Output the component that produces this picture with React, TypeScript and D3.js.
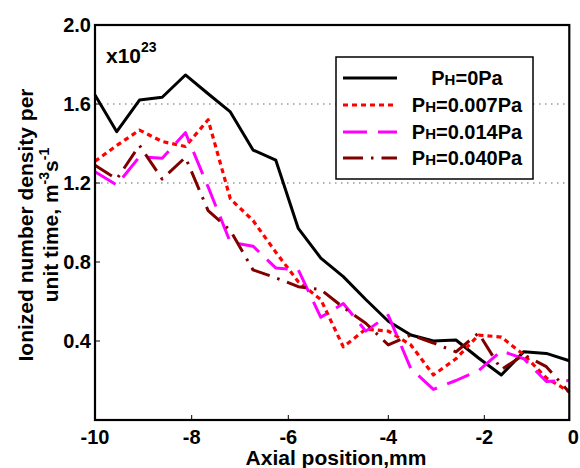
import React from "react";
import * as d3 from "d3";

const positions = [-10, -9.55, -9.08, -8.61, -8.13, -7.66, -7.2, -6.73, -6.26, -5.8, -5.35, -4.9, -4.45, -4.0, -3.53, -3.06, -2.59, -2.12, -1.6, -1.07, -0.54, 0];
const seriesP0 = [1.646, 1.46, 1.62, 1.634, 1.747, 1.652, 1.56, 1.367, 1.316, 0.97, 0.82, 0.726, 0.61, 0.5, 0.43, 0.4, 0.405, 0.314, 0.228, 0.346, 0.337, 0.3];
const seriesP007 = [1.31, 1.39, 1.468, 1.41, 1.385, 1.52, 1.12, 1.01, 0.85, 0.7, 0.61, 0.37, 0.46, 0.45, 0.38, 0.228, 0.31, 0.43, 0.42, 0.33, 0.213, 0.143];
const seriesP014 = [1.257, 1.19, 1.333, 1.325, 1.455, 1.18, 0.9, 0.88, 0.77, 0.76, 0.52, 0.59, 0.45, 0.53, 0.26, 0.155, 0.2, 0.25, 0.35, 0.31, 0.195, 0.2];
const seriesP040 = [1.29, 1.22, 1.39, 1.22, 1.33, 1.06, 0.96, 0.76, 0.72, 0.675, 0.66, 0.57, 0.49, 0.38, 0.43, 0.39, 0.345, 0.44, 0.255, 0.33, 0.27, 0.14];
const legendLabels = ["0Pa", "0.007Pa", "0.014Pa", "0.040Pa"];
const xTicks = [-10, -8, -6, -4, -2, 0];
const yTicks = [0.4, 0.8, 1.2, 1.6, 2.0];
const gridTicks = [1.2, 1.6];

const FONT = "'Liberation Sans', Arial, sans-serif";

export default function App() {
  const W = 580, H = 468;
  const x = d3.scaleLinear().domain([-10, -8, -6, -4, -2, 0]).range([95, 191.7, 288.3, 388.3, 484.3, 569.3]);
  const y = d3.scaleLinear().domain([0, 2]).range([420, 25]);
  const line = d3.line<number>().x((_, i) => x(positions[i])).y((d) => y(d));

  const series = [
    { data: seriesP0, color: "#000000", dash: "none", width: 3 },
    { data: seriesP007, color: "#ff0000", dash: "5 4", width: 3.2 },
    { data: seriesP014, color: "#ff00ff", dash: "24 11", width: 3 },
    { data: seriesP040, color: "#800000", dash: "20 8 2.5 8", width: 3 },
  ];

  const left = x(-10), right = x(0), top = y(2), bottom = y(0);
  const legX = 336, legY = 57, legW = 197, legH = 122;
  const rowY = [78, 105, 132, 158];

  return (
    <svg width={W} height={H} style={{ position: "absolute", left: 0, top: 0, background: "#fff" }} fontFamily={FONT}>
      <rect x={0} y={0} width={W} height={H} fill="#fff" />
      {gridTicks.map((t) => (
        <line key={t} x1={left} x2={right} y1={y(t)} y2={y(t)} stroke="#666" strokeWidth={1.2} strokeDasharray="1.5 4.5" />
      ))}
      <g>
        {series.map((s, i) => (
          <path key={i} d={line(s.data) || ""} fill="none" stroke={s.color} strokeWidth={s.width} strokeDasharray={s.dash} strokeLinejoin="round" />
        ))}
      </g>
      {/* frame */}
      <rect x={left} y={top} width={right - left} height={bottom - top} fill="none" stroke="#000" strokeWidth={2.2} />
      {xTicks.map((t) => (
        <g key={t}>
          <line x1={x(t)} x2={x(t)} y1={bottom} y2={bottom - 5} stroke="#000" strokeWidth={1} />
          <text x={t === 0 ? x(t) + 4 : x(t)} y={444} textAnchor="middle" fontSize={20} fontWeight="bold">{t}</text>
        </g>
      ))}
      {yTicks.map((t) => (
        <g key={t}>
          <line x1={left} x2={left + 5} y1={y(t)} y2={y(t)} stroke="#000" strokeWidth={1} />
          <text x={91} y={y(t) + 7} textAnchor="end" fontSize={20} fontWeight="bold">{t.toFixed(1)}</text>
        </g>
      ))}
      <text x={106} y={63} fontSize={21} fontWeight="bold">x10<tspan fontSize={14} dy={-11}>23</tspan></text>
      {/* axis titles */}
      <text x={336} y={465} textAnchor="middle" fontSize={21} fontWeight="bold">Axial position,mm</text>
      <g transform="translate(33,225) rotate(-90)">
        <text x={0} y={0} textAnchor="middle" fontSize={21} fontWeight="bold">Ionized number density per</text>
        <text x={0} y={25} textAnchor="middle" fontSize={21} fontWeight="bold">unit time, m<tspan fontSize={14} dy={-9}>-3</tspan><tspan dy={9}>s</tspan><tspan fontSize={14} dy={-9}>-1</tspan></text>
      </g>
      {/* legend */}
      <rect x={legX} y={legY} width={legW} height={legH} fill="#fff" stroke="#000" strokeWidth={1.5} />
      {series.map((s, i) => (
        <g key={i}>
          <line x1={343} x2={397} y1={rowY[i]} y2={rowY[i]} stroke={s.color} strokeWidth={s.width} strokeDasharray={s.dash} />
          <text x={467} y={rowY[i] + 7} textAnchor="middle" fontSize={20} fontWeight="bold">P<tspan fontSize={15}>H</tspan>={legendLabels[i]}</text>
        </g>
      ))}
    </svg>
  );
}
